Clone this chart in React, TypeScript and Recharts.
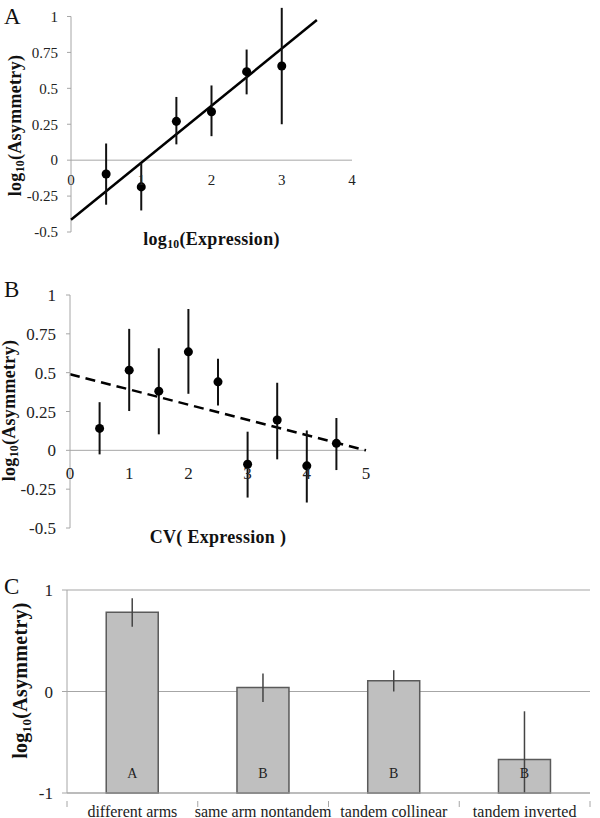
import React from 'react'
import {
  ComposedChart,
  BarChart,
  Bar,
  Scatter,
  ErrorBar,
  XAxis,
  YAxis,
  CartesianGrid,
  ReferenceLine,
  ReferenceDot,
  LabelList,
} from 'recharts'

const SERIF = '"Liberation Serif", "Times New Roman", serif'
const AXIS_GRAY = '#a6a6a6'
const INK = '#111'

// A: asymmetry against log10(expression)
const exprBins = [0.5, 1, 1.5, 2, 2.5, 3]
const exprAsym = [-0.096, -0.186, 0.27, 0.337, 0.616, 0.655]
const exprLow = [-0.31, -0.35, 0.11, 0.167, 0.458, 0.25]
const exprHigh = [0.116, -0.02, 0.44, 0.52, 0.77, 1.06]
const exprFitX = [0, 3.5]
const exprFitY = [-0.415, 0.975]
const exprXTicks = [0, 1, 2, 3, 4]
const exprYTicks = [-0.5, -0.25, 0, 0.25, 0.5, 0.75, 1]

// B: asymmetry against CV of expression
const cvBins = [0.5, 1, 1.5, 2, 2.5, 3, 3.5, 4, 4.5]
const cvAsym = [0.141, 0.516, 0.381, 0.634, 0.441, -0.09, 0.195, -0.1, 0.045]
const cvLow = [-0.026, 0.253, 0.103, 0.364, 0.289, -0.304, -0.058, -0.336, -0.127]
const cvHigh = [0.31, 0.782, 0.657, 0.91, 0.589, 0.12, 0.435, 0.128, 0.208]
const cvFitX = [0, 5]
const cvFitY = [0.49, 0]
const cvXTicks = [0, 1, 2, 3, 4, 5]
const cvYTicks = [-0.5, -0.25, 0, 0.25, 0.5, 0.75, 1]

// C: asymmetry by gene pair arrangement
const pairTypes = ['different arms', 'same arm nontandem', 'tandem collinear', 'tandem inverted']
const pairAsym = [0.78, 0.04, 0.105, -0.671]
const pairLow = [0.638, -0.103, 0.0, -1]
const pairHigh = [0.918, 0.178, 0.21, -0.195]
const pairGroups = ['A', 'B', 'B', 'B']
const pairYTicks = [-1, 0, 1]

const toPoints = (xs: number[], ys: number[], lo: number[], hi: number[]) =>
  xs.map((x, i) => ({ x, y: ys[i], err: [ys[i] - lo[i], hi[i] - ys[i]] }))

const pointsA = toPoints(exprBins, exprAsym, exprLow, exprHigh)
const pointsB = toPoints(cvBins, cvAsym, cvLow, cvHigh)
const pairRows = pairTypes.map((name, i) => ({
  name,
  span: [-1, pairAsym[i]],
  err: [pairAsym[i] - pairLow[i], pairHigh[i] - pairAsym[i]],
  group: pairGroups[i],
}))

const logText = (word: string, size: number) => [
  <tspan key="a">log</tspan>,
  <tspan key="b" fontSize={size * 0.65} dy={size * 0.28}>10</tspan>,
  <tspan key="c" dy={-size * 0.28}>({word})</tspan>,
]

const yTitle = (size: number, x: number, dy: number) => (props: any) => {
  const vb = props.viewBox
  const cy = vb.y + vb.height / 2 + dy
  return (
    <text
      x={x}
      y={cy}
      transform={`rotate(-90 ${x} ${cy})`}
      textAnchor="middle"
      dominantBaseline="central"
      fontFamily={SERIF}
      fontWeight="bold"
      fontSize={size}
      letterSpacing={0.3}
      fill={INK}
    >
      {logText('Asymmetry', size)}
    </text>
  )
}

const xTitle = (size: number, dy: number, children: React.ReactNode) => (props: any) => {
  const vb = props.viewBox
  return (
    <text
      x={vb.x + vb.width / 2}
      y={vb.y + dy}
      textAnchor="middle"
      dominantBaseline="central"
      fontFamily={SERIF}
      fontWeight="bold"
      fontSize={size}
      letterSpacing={0.3}
      fill={INK}
    >
      {children}
    </text>
  )
}

// category label plus Excel-style tick marks on the band edges
const PairTick = (props: any) => {
  const { x, y, payload, index, visibleTicksCount } = props
  const half = payload.offset || 0
  return (
    <g>
      <line x1={x - half} x2={x - half} y1={y} y2={y + 6} stroke={AXIS_GRAY} />
      {index === visibleTicksCount - 1 && (
        <line x1={x + half} x2={x + half} y1={y} y2={y + 6} stroke={AXIS_GRAY} />
      )}
      <text x={x} y={y + 16} textAnchor="middle" fontFamily={SERIF} fontSize={16} fill="#222">
        {payload.value}
      </text>
    </g>
  )
}

const panelLetter = (letter: string, top: number) => (
  <div
    style={{
      position: 'absolute',
      left: 4,
      top,
      fontFamily: SERIF,
      fontSize: 23,
      lineHeight: '23px',
      color: INK,
    }}
  >
    {letter}
  </div>
)

function PanelA() {
  return (
    <ComposedChart width={600} height={260} margin={{ top: 5, right: 248, bottom: 0, left: 11 }}>
      <XAxis
        type="number"
        dataKey="x"
        domain={[0, 4]}
        ticks={exprXTicks}
        tick={false}
        tickLine={false}
        axisLine={false}
        height={28}
        label={{ content: xTitle(18, 7, logText('Expression', 18)) }}
      />
      <YAxis
        type="number"
        dataKey="y"
        domain={[-0.5, 1.08]}
        ticks={exprYTicks}
        width={60}
        axisLine={false}
        tickLine={{ stroke: AXIS_GRAY }}
        tickSize={4}
        tickMargin={9}
        tick={{ fontSize: 15, fill: '#222', fontFamily: SERIF }}
        label={{ content: yTitle(18, 15, 7) }}
      />
      <ReferenceLine segment={[{ x: 0, y: -0.5 }, { x: 0, y: 1 }]} stroke={AXIS_GRAY} />
      <ReferenceLine y={0} stroke={AXIS_GRAY} />
      {exprXTicks.map((t) => (
        <ReferenceDot
          key={t}
          x={t}
          y={0}
          r={0}
          fill="none"
          stroke="none"
          label={{ value: String(t), position: 'bottom', offset: 14, fontSize: 15, fill: '#222', fontFamily: SERIF }}
        />
      ))}
      <ReferenceLine
        segment={[
          { x: exprFitX[0], y: exprFitY[0] },
          { x: exprFitX[1], y: exprFitY[1] },
        ]}
        stroke="#000"
        strokeWidth={2.5}
      />
      <Scatter data={pointsA} dataKey="y" fill="#000" isAnimationActive={false}>
        <ErrorBar dataKey="err" direction="y" width={0} stroke={INK} strokeWidth={2} />
      </Scatter>
    </ComposedChart>
  )
}

function PanelB() {
  return (
    <ComposedChart width={600} height={280} margin={{ top: 25, right: 234, bottom: 0, left: 10 }}>
      <XAxis
        type="number"
        dataKey="x"
        domain={[0, 5]}
        ticks={cvXTicks}
        tick={false}
        tickLine={false}
        axisLine={false}
        height={22}
        label={{ content: xTitle(18, 9, 'CV( Expression )') }}
      />
      <YAxis
        type="number"
        dataKey="y"
        domain={[-0.5, 1]}
        ticks={cvYTicks}
        width={60}
        axisLine={{ stroke: AXIS_GRAY }}
        tickLine={{ stroke: AXIS_GRAY }}
        tickSize={4}
        tickMargin={10}
        tick={{ fontSize: 17, fill: '#222', fontFamily: SERIF }}
        label={{ content: yTitle(18, 9, -1) }}
      />
      <ReferenceLine y={0} stroke={AXIS_GRAY} />
      {cvXTicks.map((t) => (
        <ReferenceDot
          key={t}
          x={t}
          y={0}
          r={0}
          fill="none"
          stroke="none"
          label={{ value: String(t), position: 'bottom', offset: 17, fontSize: 17, fill: '#222', fontFamily: SERIF }}
        />
      ))}
      <ReferenceLine
        segment={[
          { x: cvFitX[0], y: cvFitY[0] },
          { x: cvFitX[1], y: cvFitY[1] },
        ]}
        stroke="#000"
        strokeWidth={2.5}
        strokeDasharray="10 6"
      />
      <Scatter data={pointsB} dataKey="y" fill="#000" isAnimationActive={false}>
        <ErrorBar dataKey="err" direction="y" width={0} stroke={INK} strokeWidth={2} />
      </Scatter>
    </ComposedChart>
  )
}

function PanelC() {
  return (
    <BarChart
      width={600}
      height={258}
      data={pairRows}
      margin={{ top: 30, right: 10, bottom: 0, left: 21 }}
      barCategoryGap="30%"
    >
      <CartesianGrid vertical={false} stroke={AXIS_GRAY} strokeWidth={1.2} />
      <XAxis
        dataKey="name"
        height={25}
        interval={0}
        axisLine={{ stroke: AXIS_GRAY }}
        tickLine={false}
        tick={<PairTick />}
      />
      <YAxis
        type="number"
        domain={[-1, 1]}
        ticks={pairYTicks}
        width={46}
        axisLine={{ stroke: AXIS_GRAY }}
        tickLine={{ stroke: AXIS_GRAY }}
        tickSize={5}
        tickMargin={9}
        tick={{ fontSize: 17, fill: '#222', fontFamily: SERIF }}
        label={{ content: yTitle(20, 20, -11) }}
      />
      <Bar dataKey="span" fill="#bfbfbf" stroke="#5a5a5a" strokeWidth={1.5} isAnimationActive={false}>
        <LabelList
          dataKey="group"
          content={(p: any) => (
            <text
              x={p.x + p.width / 2}
              y={p.y + p.height - 15}
              textAnchor="middle"
              fontFamily={SERIF}
              fontSize={14}
              fill="#222"
            >
              {p.value}
            </text>
          )}
        />
        <ErrorBar dataKey="err" direction="y" width={0} stroke="#444" strokeWidth={1.5} />
      </Bar>
    </BarChart>
  )
}

export default function App() {
  return (
    <div style={{ position: 'absolute', left: 0, top: 0, width: 600, height: 818, background: '#fff' }}>
      <div style={{ position: 'absolute', left: 0, top: 0 }}>
        <PanelA />
      </div>
      <div style={{ position: 'absolute', left: 0, top: 270 }}>
        <PanelB />
      </div>
      <div style={{ position: 'absolute', left: 0, top: 560 }}>
        <PanelC />
      </div>
      {panelLetter('A', 5)}
      {panelLetter('B', 278)}
      {panelLetter('C', 575)}
    </div>
  )
}
